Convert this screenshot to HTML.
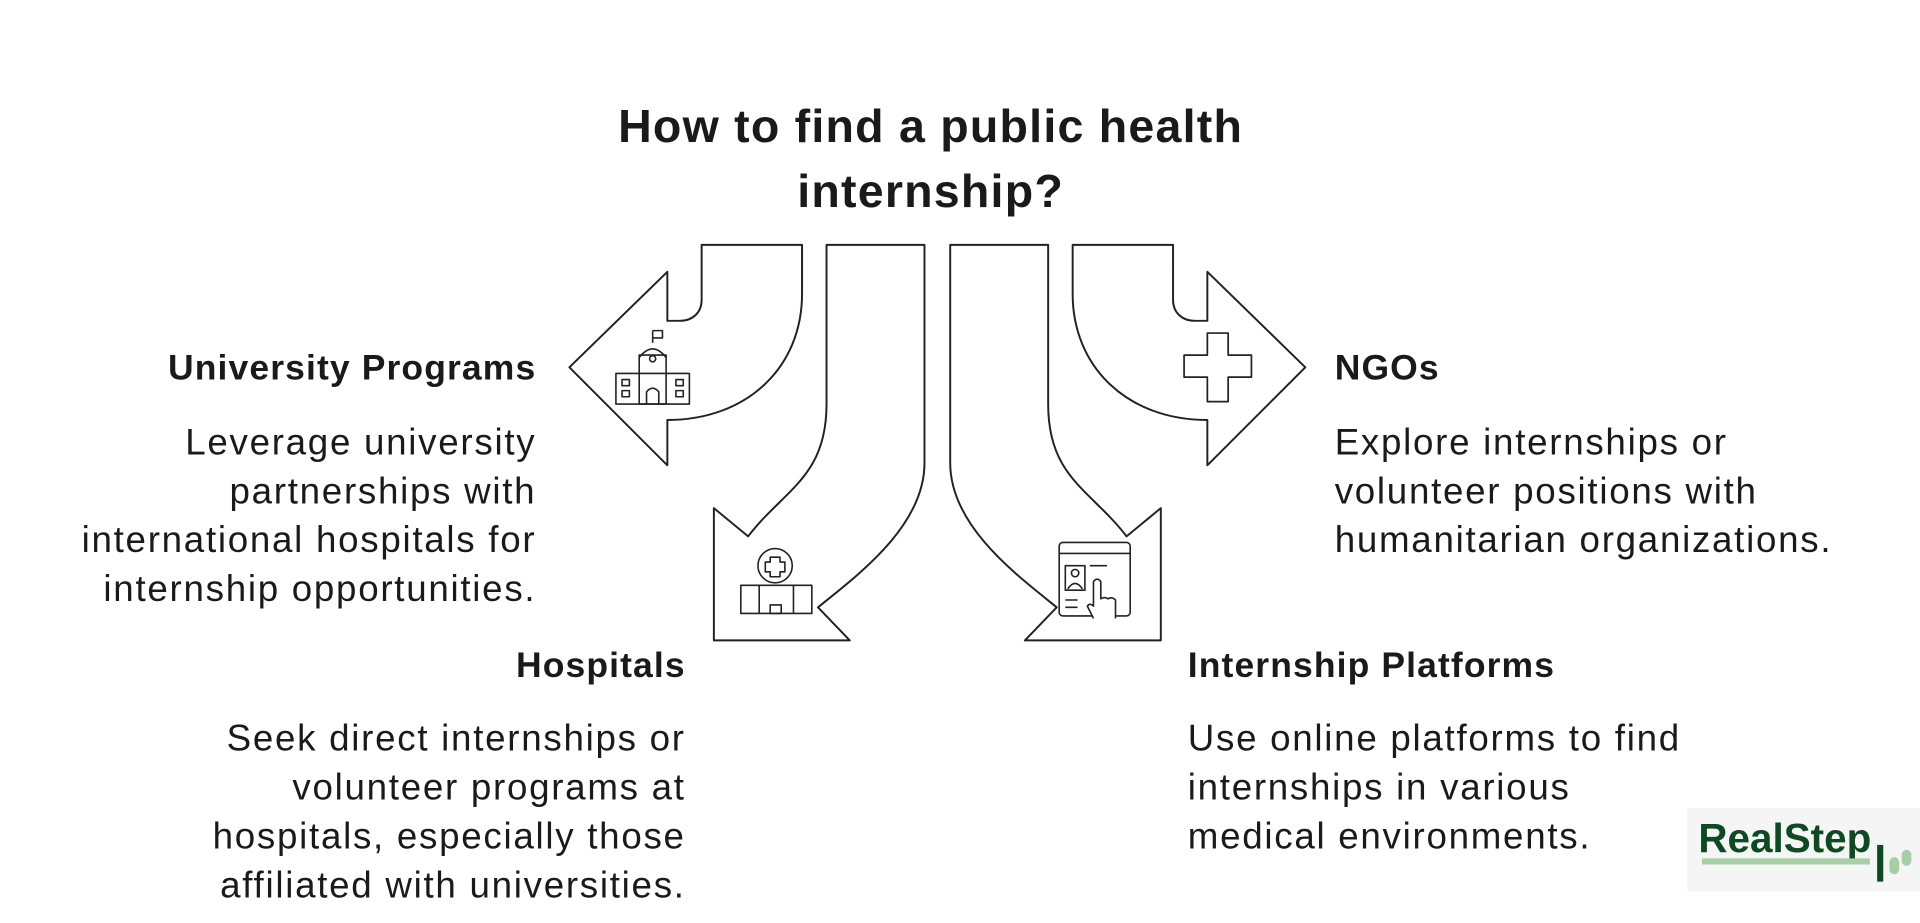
<!DOCTYPE html>
<html><head><meta charset="utf-8"><style>
html,body{margin:0;padding:0;background:#fff;width:1920px;height:923px;overflow:hidden}
#c{position:absolute;left:0;top:0;width:1568px;height:754px;transform:scale(1.22449);transform-origin:0 0;font-family:"Liberation Sans",sans-serif;color:#1a1a1a}
.t{position:absolute;white-space:nowrap}
.h{font-weight:bold;font-size:29px;letter-spacing:0.9px}
.b{font-size:30px;line-height:40px;letter-spacing:1.4px}
.r{text-align:right}
</style></head><body><div id="c">
<div class="t h" style="left:360px;width:800px;text-align:center;top:78px;font-size:38px;line-height:53px;letter-spacing:1px">How to find a public health<br>internship?</div>
<svg width="1568" height="754" style="position:absolute;left:0;top:0" fill="none" stroke="#222" stroke-width="1.6" stroke-linejoin="round">
<g id="L">
<path d="M573,200 L655,200 L655,240 C655,300 610,343 545,343 L545,380 L465,300 L545,222 L545,262 L555,262 C566,262 573,255 573,245 Z" fill="#fff"/>
<path d="M675,200 L755,200 L755,378 C755,430 700,470 668,496 L694,523 L583,523 L583,415 L611,438 C640,400 675,390 675,330 Z" fill="#fff"/>
</g>
<use href="#L" transform="translate(1531,0) scale(-1,1)"/>
<g stroke-width="1.3">
<rect x="503" y="305" width="60" height="25"/><rect x="522" y="290" width="22" height="40"/>
<path d="M522,292 Q533,278 544,292"/><line x1="533" y1="280" x2="533" y2="270"/><path d="M533,270 h8 v6 h-8"/>
<circle cx="533" cy="293" r="2.5"/><path d="M528,330 v-10 q5,-6 10,0 v10"/>
<rect x="508" y="310" width="6" height="5"/><rect x="508" y="319" width="6" height="5"/><rect x="552" y="310" width="6" height="5"/><rect x="552" y="319" width="6" height="5"/>
</g>
<g stroke-width="1.3">
<circle cx="633" cy="462" r="14"/><path d="M629,455 h8 v4 h4 v8 h-4 v4 h-8 v-4 h-4 v-8 h4 z"/>
<rect x="605" y="478" width="58" height="23"/><path d="M620,478 v23 M648,478 v23"/><rect x="629" y="494" width="9" height="7"/>
</g>
<path d="M986,272 h17 v18 h19 v18 h-19 v20 h-17 v-20 h-19 v-18 h19 z" stroke-width="1.4"/>
<g stroke-width="1.3">
<rect x="865" y="443" width="58" height="60" rx="3"/><line x1="865" y1="452" x2="923" y2="452"/>
<rect x="870" y="462" width="16" height="20"/><circle cx="878" cy="468" r="3"/><path d="M872,481 q6,-9 12,0"/>
<path d="M890,462 h14 M870,490 h10 M870,496 h10"/>
<path d="M893,505 l-5,-10 q2,-3 5,0 v-20 q3,-4 6,0 v14 q3,-2 6,0 q3,-2 6,1 v15" fill="#fff"/>
</g>
</svg>
<div class="t h r" style="right:1130px;top:285px">University Programs</div>
<div class="t b r" style="right:1130px;top:342px">Leverage university<br>partnerships with<br>international hospitals for<br>internship opportunities.</div>
<div class="t h r" style="right:1008px;top:528px">Hospitals</div>
<div class="t b r" style="right:1008px;top:584px">Seek direct internships or<br>volunteer programs at<br>hospitals, especially those<br>affiliated with universities.</div>
<div class="t h" style="left:1090px;top:285px">NGOs</div>
<div class="t b" style="left:1090px;top:342px">Explore internships or<br>volunteer positions with<br>humanitarian organizations.</div>
<div class="t h" style="left:970px;top:528px">Internship Platforms</div>
<div class="t b" style="left:970px;top:584px">Use online platforms to find<br>internships in various<br>medical environments.</div>
<div style="position:absolute;left:1378px;top:660px;width:190px;height:68px;background:#f5f5f5"></div>
<div class="t" style="left:1387px;top:666px;font-size:33px;font-weight:bold;color:#0d4a22">RealStep</div>
<div style="position:absolute;left:1390px;top:701px;width:137px;height:5px;background:#a7cfa6"></div>
<div style="position:absolute;left:1533px;top:690px;width:5px;height:30px;background:#0d4a22"></div>
<div style="position:absolute;left:1543px;top:700px;width:8px;height:14px;border-radius:4px;background:#a7cfa6"></div>
<div style="position:absolute;left:1553px;top:694px;width:8px;height:13px;border-radius:4px;background:#a7cfa6"></div>
</div></body></html>
